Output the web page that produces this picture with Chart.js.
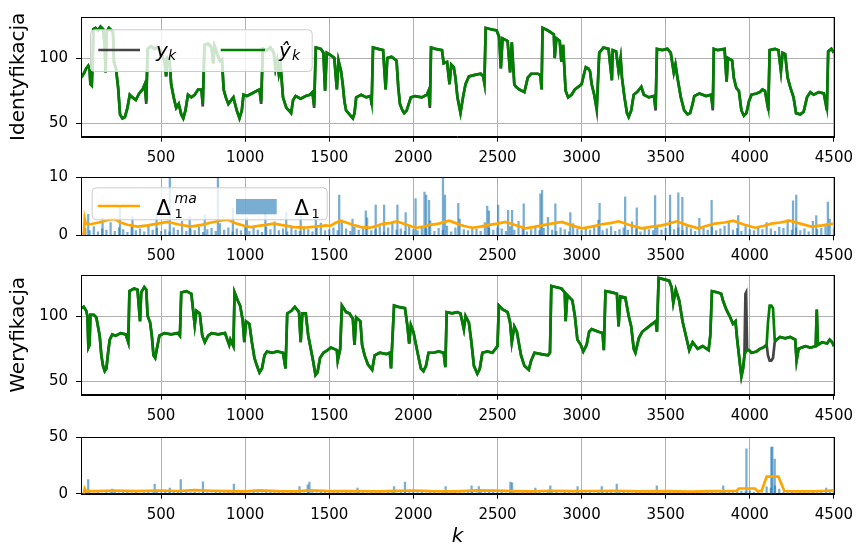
<!DOCTYPE html>
<html>
<head>
<meta charset="utf-8">
<script src="https://cdn.jsdelivr.net/npm/chart.js@4.4.1/dist/chart.umd.min.js"></script>
<style>
  html, body { margin: 0; padding: 0; background: #fff; overflow: hidden; width: 860px; height: 545px; }
  .panel { position: absolute; left: 0; width: 860px; }
  canvas { display: block; }
</style>
</head>
<body>
<div class="panel" style="top:0px"><canvas id="c1" width="860" height="172"></canvas></div>
<div class="panel" style="top:160px"><canvas id="c2" width="860" height="110"></canvas></div>
<div class="panel" style="top:258px"><canvas id="c3" width="860" height="172"></canvas></div>
<div class="panel" style="top:420px"><canvas id="c4" width="860" height="129"></canvas></div>
<script>
// x axis
const xTicks = [500, 1000, 1500, 2000, 2500, 3000, 3500, 4000, 4500];
const xMin = 24, xMax = 4500;

// Identyfikacja: y_k (gray) and y^_k (green)
const kId = [24,40,55,67,75,80,88,94,97,110,125,140,155,165,170,176,
  190,205,214,220,232,245,256,270,285,300,314,330,350,370,390,403,
  412,420,440,460,480,500,510,520,530,538,550,560,575,590,605,620,
  632,645,660,680,700,720,740,748,758,780,800,810,818,840,850,862,
  872,885,900,930,950,966,980,990,1010,1040,1070,1085,1095,1105,1130,1150,
  1170,1180,1190,1200,1210,1225,1245,1260,1273,1285,1300,1330,1360,1385,1400,1410,
  1420,1450,1465,1475,1485,1510,1530,1545,1555,1570,1580,1590,1600,1620,1640,1650,
  1660,1690,1720,1745,1752,1760,1790,1820,1835,1845,1870,1900,1910,1920,1935,1945,
  1960,1985,2010,2050,2080,2090,2098,2105,2130,2170,2180,2200,2215,2225,2240,2250,
  2262,2280,2295,2310,2330,2360,2400,2415,2422,2430,2460,2495,2510,2520,2530,2560,
  2575,2585,2600,2610,2630,2660,2680,2700,2740,2755,2762,2768,2800,2835,2840,2850,
  2870,2880,2890,2905,2920,2940,2960,2980,3000,3015,3025,3040,3050,3060,3075,3090,
  3105,3130,3160,3180,3185,3205,3220,3232,3240,3255,3270,3280,3295,3310,3330,3355,
  3370,3400,3430,3440,3448,3480,3510,3530,3548,3558,3570,3590,3610,3630,3645,3660,
  3670,3700,3740,3770,3780,3786,3810,3850,3862,3870,3895,3905,3920,3935,3950,3965,
  3980,3995,4010,4040,4060,4075,4090,4110,4118,4150,4170,4185,4195,4210,4225,4240,
  4260,4275,4300,4320,4340,4360,4380,4410,4440,4458,4466,4485,4500];
const yHatId = [85,88,92,94,91,80,79,100,122,123,121,124,122,110,89,120,
  123,121,120,97,92,77,57,54,55,62,72,70,68,73,76,80,
  67,107,109,107,108,105,100,99,86,100,99,80,70,62,65,57,
  54,60,72,70,72,76,76,65,110,111,108,96,109,101,98,99,
  76,70,65,70,60,54,60,72,71,73,75,76,67,107,106,108,
  104,92,98,88,95,70,62,60,58,68,71,69,71,72,74,64,
  108,107,104,75,104,102,100,76,98,90,80,67,60,57,54,58,
  70,72,70,71,66,108,107,106,76,100,101,98,78,65,60,58,
  60,70,71,70,72,75,64,108,107,106,96,97,80,95,93,85,
  70,58,70,80,86,87,88,86,81,123,122,121,116,92,115,113,
  89,112,80,78,76,74,85,88,88,87,76,123,121,118,100,115,
  113,97,110,75,70,72,76,78,80,88,93,92,90,80,72,62,
  104,108,107,83,106,105,90,100,85,70,58,55,60,72,74,78,
  72,70,71,62,107,106,107,104,89,95,85,70,60,57,58,65,
  71,73,71,72,62,107,106,107,82,100,98,85,77,75,60,56,
  58,67,72,73,74,76,75,62,106,107,106,90,104,103,85,78,
  70,58,57,59,70,74,72,74,73,62,105,107,104];
const yId = [85,88,92,94,91,80,79,100,122,123,121,124,122,110,89,120,
  123,121,120,97,92,77,57,54,55,62,72,70,68,73,76,80,
  65,107,109,107,108,105,100,99,86,100,99,80,70,62,65,57,
  54,60,72,70,72,76,76,63,110,111,108,96,109,101,98,99,
  76,70,65,70,60,54,60,72,71,73,75,76,65,107,106,108,
  104,92,98,88,95,70,62,60,58,68,71,69,71,72,74,62,
  108,107,104,75,104,102,100,76,98,90,80,67,60,57,54,58,
  70,72,70,71,64,108,107,106,76,100,101,98,78,65,60,58,
  60,70,71,70,72,75,62,108,107,106,96,97,80,95,93,85,
  70,58,70,80,86,87,88,86,81,123,122,121,116,92,115,113,
  89,112,80,78,76,74,85,88,88,87,76,123,121,118,100,115,
  113,97,110,75,70,72,76,78,80,88,93,92,90,80,72,60,
  104,108,107,83,106,105,90,100,85,70,58,55,60,72,74,78,
  72,70,71,60,107,106,107,104,89,95,85,70,60,57,58,65,
  71,73,71,72,60,107,106,107,82,100,98,85,77,75,60,56,
  58,67,72,73,74,76,75,60,106,107,106,90,104,103,85,78,
  70,58,57,59,70,74,72,74,73,60,105,107,104];

// Weryfikacja
const kVer = [24,40,55,62,68,75,80,100,115,125,135,145,155,165,175,185,
  195,210,230,260,290,305,312,340,360,375,382,400,412,420,435,445,
  455,465,475,490,520,560,600,612,620,650,680,690,700,710,730,745,
  760,780,800,840,880,905,912,930,937,955,970,985,995,1005,1025,1040,
  1055,1070,1085,1100,1115,1130,1160,1190,1225,1240,1250,1275,1295,1320,1330,1340,
  1360,1375,1390,1405,1418,1430,1445,1465,1490,1510,1545,1550,1565,1575,1600,1620,
  1640,1650,1660,1685,1695,1710,1730,1755,1770,1800,1840,1860,1867,1885,1910,1950,
  1965,1975,1985,2000,2025,2045,2060,2075,2090,2120,2150,2180,2190,2198,2230,2260,
  2280,2300,2310,2330,2345,2360,2380,2395,2410,2440,2470,2500,2508,2530,2560,2575,
  2585,2600,2615,2640,2660,2686,2700,2720,2760,2800,2812,2820,2850,2880,2900,2905,
  2915,2945,2960,2975,2995,3010,3030,3045,3060,3100,3125,3132,3142,3180,3210,3220,
  3230,3260,3280,3295,3310,3320,3340,3360,3390,3420,3440,3448,3458,3490,3520,3535,
  3545,3560,3580,3600,3620,3640,3660,3690,3720,3755,3765,3775,3810,3830,3840,3860,
  3880,3900,3915,3925,3940,3950,3960,3968,3974,3978,3984,3995,4010,4040,4060,4080,
  4100,4108,4118,4128,4138,4148,4160,4180,4210,4240,4270,4278,4290,4330,4360,4392,
  4398,4405,4430,4460,4475,4490,4500];
const yHatVer = [106,107,104,100,76,78,101,101,99,92,85,70,62,58,60,72,
  82,86,85,87,86,80,119,121,120,96,118,122,120,100,95,85,
  70,68,75,85,87,86,87,85,118,119,117,105,93,104,102,85,
  80,85,87,86,87,78,82,77,118,112,108,97,80,96,94,80,
  68,62,57,60,70,73,72,73,72,60,102,104,107,103,80,102,
  102,85,75,65,55,57,68,72,74,76,74,66,75,108,103,102,
  98,78,99,96,78,70,63,59,70,72,71,72,60,108,107,106,
  92,79,93,88,72,60,58,62,72,72,73,72,61,103,102,103,
  102,90,100,95,80,62,56,60,72,73,72,77,108,105,103,95,
  80,92,88,70,62,59,66,72,71,70,72,123,122,121,118,96,
  116,112,100,82,78,73,78,88,90,88,87,74,119,118,117,92,
  115,114,100,92,75,72,83,88,91,94,96,88,129,128,127,122,
  110,120,112,96,85,74,80,75,77,74,85,119,118,117,112,105,
  100,94,96,82,65,54,60,70,72,73,74,74,72,73,75,76,
  78,95,108,108,106,82,82,84,83,84,82,66,75,77,76,77,
  105,78,80,79,82,80,77];
const yVer = [106,107,104,100,76,78,101,101,99,92,85,70,62,58,60,72,
  82,86,85,87,86,80,119,121,120,96,118,122,120,100,95,85,
  70,68,75,85,87,86,87,85,118,119,117,105,93,104,102,85,
  80,85,87,86,87,78,82,77,118,112,108,97,80,96,94,80,
  68,62,57,60,70,73,72,73,72,60,102,104,107,103,80,102,
  102,85,75,65,55,57,68,72,74,76,74,66,75,108,103,102,
  98,78,99,96,78,70,63,59,70,72,71,72,60,108,107,106,
  92,79,93,88,72,60,58,62,72,72,73,72,61,103,102,103,
  102,90,100,95,80,62,56,60,72,73,72,77,108,105,103,95,
  80,92,88,70,62,59,66,72,71,70,72,123,122,121,118,96,
  116,112,100,82,78,73,78,88,90,88,87,74,119,118,117,92,
  115,114,100,92,75,72,83,88,91,94,96,88,129,128,127,122,
  110,120,112,96,85,74,80,75,77,74,85,119,118,117,112,105,
  100,94,96,82,65,54,60,70,117,118,74,74,72,73,75,76,
  78,70,66,66,68,80,82,84,83,84,82,66,75,77,76,77,
  105,78,80,79,82,80,77];

// Delta_1 bars (every 25 samples) and the taller single spikes, identification
const delta1Base = [
  0.4,1.2,0.8,1.5,0.6,1.1,0.9,2.2,0.7,1.3,1.0,0.5,1.4,0.8,1.1,0.6,1.9,0.9,1.2,0.7,
  1.0,0.6,1.3,0.9,2.4,0.7,1.1,0.8,1.4,0.5,1.0,1.2,0.7,2.0,0.9,1.3,0.6,1.1,0.8,1.5,
  0.7,1.2,0.9,0.5,1.4,1.0,2.3,0.8,1.1,0.6,1.3,0.9,0.7,1.5,1.0,0.6,1.2,2.1,0.8,1.0,
  1.3,0.8,2.6,1.1,0.7,1.4,0.9,1.2,3.0,0.8,1.0,1.5,0.6,1.3,2.2,0.9,1.1,0.7,1.6,1.0,
  0.8,1.4,1.1,2.5,0.7,1.2,0.9,1.6,0.6,1.3,2.8,1.0,0.8,1.4,1.1,0.7,2.2,1.2,0.9,1.3,
  1.1,0.7,1.5,0.9,2.4,1.2,0.6,1.0,1.4,0.8,1.2,3.1,0.9,0.7,1.3,1.0,0.6,2.0,1.1,0.8,
  1.2,0.9,1.4,2.6,0.8,1.1,1.5,0.7,1.0,1.3,0.9,2.3,1.1,0.6,1.4,1.0,0.8,1.6,0.9,1.2,
  2.5,1.0,1.3,0.8,1.5,1.1,0.7,2.9,1.2,0.9,1.4,0.8,1.1,1.6,2.4,0.9,1.2,0.7,1.5,1.0,
  0.8,1.3,1.0,2.2,1.1,0.7,1.4,1.2,2.7,0.9,1.3,0.8,1.1,0.6,2.4,1.0,1.2,1.5,2.8,1.1];
const spikeK1 = [67,152,256,330,473,552,670,760,838,927,1010,1120,1244,1330,1420,1559,1638,1717,1776,1826,
  1905,1954,2013,2066,2076,2093,2176,2188,2267,2439,2449,2504,2563,2587,2656,2755,2765,2844,2933,3107,
  3259,3328,3437,3526,3575,3599,3773,3931,4257,4276,4395,4464];
const spikeV1 = [3.6,2.9,4.8,3.2,4.0,12,3.2,3.5,12,4.6,3.0,3.8,4.0,3.3,3.0,6.9,2.8,4.2,5.2,5.2,
  5.2,3.9,6.3,7.4,6.9,6.0,12,6.9,5.5,5.0,4.2,5.2,4.3,4.3,5.4,7.1,7.7,5.4,3.9,5.5,
  6.6,4.7,6.8,6.9,7.3,6.5,6.0,3.4,5.9,6.9,3.4,5.7];
const kMa1 = [40,46,52,80,130,180,222,260,300,360,420,480,538,600,676,740,800,850,893,950,
  1000,1032,1100,1170,1230,1290,1348,1420,1480,1506,1535,1565,1600,1640,1690,1743,1790,1822,1860,1901,
  1930,1960,1990,2019,2060,2099,2150,2212,2260,2300,2350,2400,2449,2500,2547,2600,2666,2710,2765,2820,
  2883,2940,3002,3060,3120,3170,3219,3280,3358,3420,3476,3520,3565,3630,3694,3740,3792,3850,3901,3960,
  4030,4080,4129,4180,4237,4300,4365,4430,4494];
const ma1 = [0,2.8,2.0,1.9,2.2,2.6,2.8,2.2,1.8,1.5,1.7,2.0,2.3,1.9,1.5,1.8,2.2,2.5,2.7,2.0,
  1.6,1.4,1.7,2.0,1.7,1.4,1.3,1.5,1.7,1.6,2.1,2.5,2.2,1.8,1.4,1.3,1.7,2.0,2.1,2.4,
  2.1,1.8,1.5,1.3,1.5,1.8,2.0,2.5,2.0,1.6,1.3,1.5,1.8,2.0,2.3,1.8,1.2,1.4,1.7,2.0,
  2.3,1.7,1.2,1.5,1.9,2.1,2.4,1.8,1.2,1.5,1.7,2.0,2.4,1.7,1.2,1.6,2.0,2.2,2.5,1.9,
  1.3,1.6,2.0,2.2,2.5,2.0,1.5,1.7,2.0];

// Delta bars and moving average, verification
const delta2Base = [
  0.5,1.5,1.0,0.8,1.8,0.6,1.2,0.9,1.4,0.7,1.1,1.6,0.8,1.3,0.6,1.0,1.5,0.9,1.2,0.7,
  1.4,0.9,1.7,1.1,0.7,1.9,1.0,1.3,0.8,1.5,1.0,0.7,1.6,1.2,0.9,1.4,1.1,0.7,1.8,1.0,
  0.8,1.6,1.0,0.7,1.2,1.7,0.9,1.2,1.4,0.8,1.1,2.0,1.0,0.8,1.5,1.0,0.7,1.3,1.7,0.9,
  1.2,1.5,0.8,1.1,1.4,0.9,1.8,1.0,0.7,1.3,1.0,1.6,0.8,1.2,1.7,0.8,1.1,1.4,0.9,1.9,
  1.0,1.4,0.8,1.7,1.1,0.7,1.2,1.5,0.9,2.0,1.0,0.8,1.4,1.2,0.8,1.6,1.0,1.3,1.8,0.9,
  1.2,0.8,1.7,1.0,0.7,1.5,2.0,1.1,0.9,1.3,0.8,1.7,1.0,1.4,0.8,1.2,1.5,0.7,1.1,1.6,
  1.0,1.4,0.8,1.8,1.0,1.3,1.6,0.8,1.2,2.0,0.9,0.7,1.5,1.1,1.0,1.7,0.8,1.2,0.7,1.0,
  1.4,0.9,1.7,1.2,0.8,1.3,1.0,1.5,0.7,1.1,1.9,0.9,1.7,2.6,1.6,2.2,3.0,2.4,1.8,2.5,
  1.1,1.4,0.8,6.0,5.0,7.0,4.0,1.2,1.0,1.5,0.7,1.2,1.6,0.9,1.3,1.0,1.7,0.8,1.4,1.9];
const spikeK2 = [67,210,462,552,617,749,933,1323,1372,1382,1668,1885,1950,2192,2346,2389,2577,2587,2725,2814,
  2976,3120,3209,3447,3842,3980,4128,4134,4148,4454];
const spikeV2 = [12.4,4,8.4,5,12.4,10.5,8.4,6.2,7.8,10.3,5,6.2,10.3,6.2,7,6.2,10.3,9.5,5,7,
  6.2,6.2,8.4,7,7,39.5,40.8,41.4,30.5,5];
const kMa2 = [40,46,52,120,220,350,480,600,700,800,900,1000,1080,1200,1300,1380,1500,1650,1800,1900,
  2000,2100,2250,2380,2500,2600,2700,2820,2950,3050,3200,3350,3500,3650,3800,3920,3935,4030,4045,4070,
  4100,4170,4205,4300,4400,4460,4500];
const ma2 = [0,4.3,2.5,2.3,2.8,2.2,2.8,2.4,3.2,2.6,2.3,2.0,2.9,2.2,2.0,3.0,2.2,2.4,2.0,2.5,
  2.8,2.2,2.0,2.9,2.7,2.2,2.0,2.6,2.2,2.4,2.6,2.0,2.2,1.9,2.3,2.4,4.6,4.6,2.2,2.4,
  15,15,2.4,2.0,2.2,2.6,3.0];

const FONT = '"DejaVu Sans", sans-serif';
const GREEN = '#008000', GRAY = '#454545', ORANGE = '#ffa500', BLUE = 'rgba(31,119,180,0.6)';

const panels = {
  c1: { top: 0, h: 172, plotTop: 12.7, plotBottom: 136.7 },
  c2: { top: 160, h: 110, plotTop: 173.7, plotBottom: 235.3 },
  c3: { top: 258, h: 172, plotTop: 271.3, plotBottom: 394.7 },
  c4: { top: 420, h: 129, plotTop: 432, plotBottom: 493.7 }
};

function pts(ks, vs) { return ks.map((k, i) => ({ x: k, y: vs[i] })); }
function barPts(base, ks, vs) {
  return base.map((v, i) => ({ x: 25 * (i + 1), y: v })).concat(pts(ks, vs));
}

function txt(ctx, s, x, y, size, italic) {
  ctx.font = (italic ? 'italic ' : '') + size + 'px ' + FONT;
  ctx.fillStyle = '#000';
  ctx.textBaseline = 'alphabetic';
  ctx.textAlign = 'left';
  ctx.fillText(s, x, y);
}
function box(ctx, x, y, w, h) {
  ctx.beginPath();
  ctx.roundRect(x + 0.5, y + 0.5, w, h, 4);
  ctx.fillStyle = 'rgba(255,255,255,0.8)';
  ctx.fill();
  ctx.strokeStyle = '#cccccc';
  ctx.lineWidth = 1;
  ctx.stroke();
}
function seg(ctx, x1, x2, y, color) {
  ctx.beginPath();
  ctx.moveTo(x1, y); ctx.lineTo(x2, y);
  ctx.strokeStyle = color; ctx.lineWidth = 2.4; ctx.stroke();
}

const legends = {
  c1(ctx, a) {
    box(ctx, a.left + 9, a.top + 12.3, 221.7, 41.7);
    const y = a.top + 33;
    seg(ctx, a.left + 17.3, a.left + 59, y, GRAY);
    txt(ctx, 'y', a.left + 75, a.top + 39.8, 20, true);
    txt(ctx, 'k', a.left + 87, a.top + 42.5, 14, true);
    seg(ctx, a.left + 139.7, a.left + 184, y, GREEN);
    txt(ctx, 'ŷ', a.left + 198, a.top + 39.8, 20, true);
    txt(ctx, 'k', a.left + 211, a.top + 42.5, 14, true);
  },
  c2(ctx, a) {
    box(ctx, a.left + 10.7, a.top + 10.3, 235, 32);
    seg(ctx, a.left + 16.7, a.left + 59, a.top + 29, ORANGE);
    txt(ctx, 'Δ', a.left + 75.5, a.top + 38, 21, false);
    txt(ctx, 'ma', a.left + 93.5, a.top + 26.3, 14, true);
    txt(ctx, '1', a.left + 93.5, a.top + 40.5, 13, false);
    ctx.fillStyle = BLUE;
    ctx.fillRect(a.left + 155, a.top + 22, 40.7, 15.3);
    txt(ctx, 'Δ', a.left + 213.5, a.top + 38, 21, false);
    txt(ctx, '1', a.left + 230.5, a.top + 40.5, 13, false);
  }
};

const framePlugin = {
  id: 'frame',
  afterDatasetsDraw(chart) {
    const { ctx, chartArea: a } = chart;
    const l = Math.round(a.left) + 0.5, r = Math.round(a.right) + 0.5;
    const t = Math.round(a.top) + 0.5, b = Math.round(a.bottom) + 0.5;
    ctx.save();
    ctx.strokeStyle = '#000';
    ctx.lineWidth = 1;
    ctx.strokeRect(l, t, r - l, b - t);
    const lg = legends[chart.canvas.id];
    if (lg) lg(ctx, a);
    ctx.restore();
  }
};

function line(data, color, order) {
  return { type: 'line', data, borderColor: color, borderWidth: 2.7, pointRadius: 0,
    fill: false, tension: 0, order };
}
function bars(data) {
  return { type: 'bar', data, backgroundColor: BLUE, borderWidth: 0, barThickness: 1.6, order: 1 };
}

function makeChart(id, datasets, yMin, yMax, yTicks, yTitle, xTitle) {
  const p = panels[id];
  const tickFont = { family: FONT, size: 15 };
  const grid = { color: '#b0b0b0', lineWidth: 1, tickColor: '#000', tickLength: 5, tickWidth: 1, offset: false };
  new Chart(document.getElementById(id), {
    type: 'line',
    data: { datasets },
    options: {
      responsive: false,
      animation: false,
      devicePixelRatio: 1,
      events: [],
      layout: { padding: { top: p.plotTop - p.top, right: 24, left: 0, bottom: 0 } },
      plugins: { legend: { display: false }, tooltip: { enabled: false } },
      scales: {
        x: {
          type: 'linear', min: xMin, max: xMax, offset: false,
          afterFit: (s) => { s.height = p.top + p.h - p.plotBottom; },
          afterBuildTicks: (s) => { s.ticks = xTicks.map((v) => ({ value: v })); },
          ticks: { font: tickFont, color: '#000', padding: 7, maxRotation: 0, autoSkip: false,
            callback: (v) => String(v) },
          grid, border: { color: '#000', width: 1 },
          title: xTitle
            ? { display: true, text: xTitle, color: '#000', padding: 0,
                font: { family: FONT, size: 20, style: 'italic', lineHeight: 1.2 } }
            : { display: false }
        },
        y: {
          min: yMin, max: yMax,
          afterFit: (s) => { s.width = 81; },
          afterBuildTicks: (s) => { s.ticks = yTicks.map((v) => ({ value: v })); },
          ticks: { font: tickFont, color: '#000', padding: 8, callback: (v) => String(v) },
          grid, border: { color: '#000', width: 1 },
          title: yTitle
            ? { display: true, text: yTitle, color: '#000', padding: { top: 7, bottom: 0 },
                font: { family: FONT, size: 20, lineHeight: 1.2 } }
            : { display: false }
        }
      }
    },
    plugins: [framePlugin]
  });
}

makeChart('c1', [line(pts(kId, yHatId), GREEN, 0), line(pts(kId, yId), GRAY, 1)],
  40, 131.3, [50, 100], 'Identyfikacja', null);
makeChart('c2', [line(pts(kMa1, ma1), ORANGE, 0), bars(barPts(delta1Base, spikeK1, spikeV1))],
  0, 10, [0, 10], null, null);
makeChart('c3', [line(pts(kVer, yHatVer), GREEN, 0), line(pts(kVer, yVer), GRAY, 1)],
  40, 131.3, [50, 100], 'Weryfikacja', null);
makeChart('c4', [line(pts(kMa2, ma2), ORANGE, 0), bars(barPts(delta2Base, spikeK2, spikeV2))],
  0, 50, [0, 50], null, 'k');
</script>
</body>
</html>
